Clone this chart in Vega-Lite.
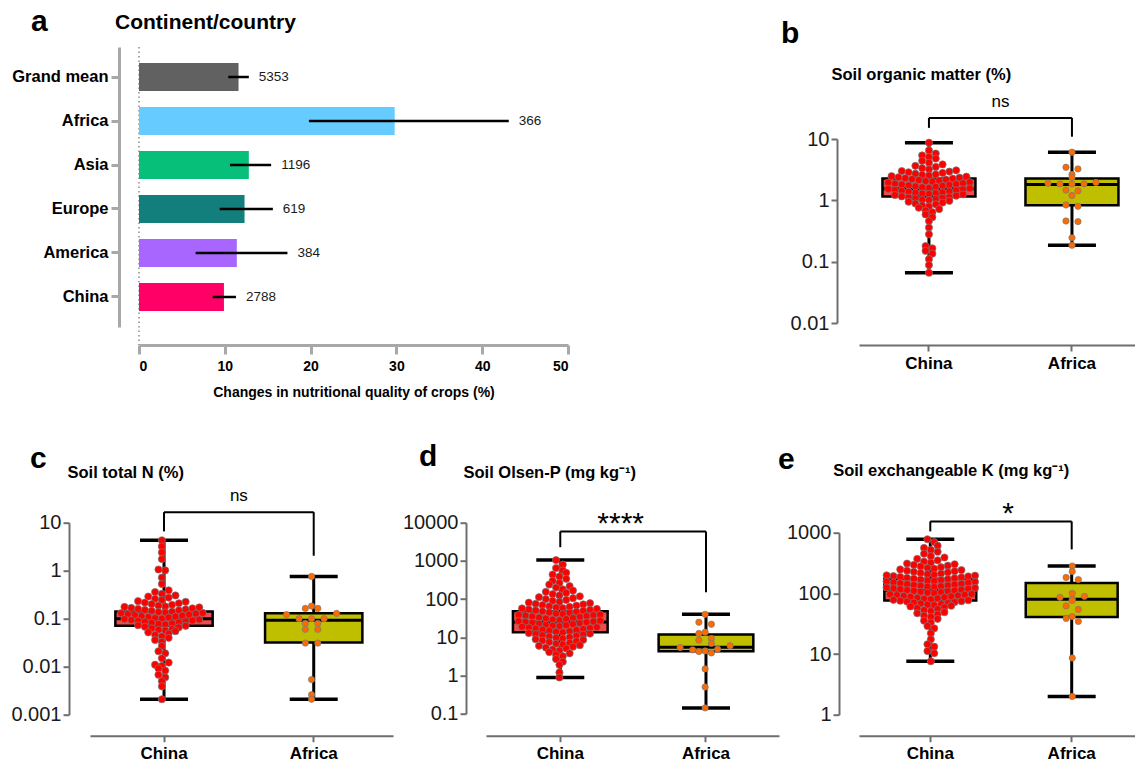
{
"$schema": "https://vega.github.io/schema/vega-lite/v6.json",
"padding": {"left": 10, "top": 7, "right": 0, "bottom": 0},
"bounds": "flush",
"spacing": 475.7,
"config": {
 "font": "Liberation Sans",
 "view": {"stroke": null},
 "axis": {"grid": false, "domainColor": "#6e6e6e", "domainWidth": 2, "tickColor": "#6e6e6e", "tickWidth": 2, "tickSize": 6, "labelColor": "#1a1a1a", "titleColor": "#000"},
 "axisY": {"labelFontSize": 20, "labelPadding": 2},
 "axisX": {"labelFontSize": 17, "labelFontWeight": "bold", "labelColor": "#000", "labelAngle": 0, "labelPadding": 4},
 "tick": {"opacity": 1, "color": "#000", "thickness": 3.5},
 "title": {"fontSize": 30, "fontWeight": "bold", "anchor": "start", "frame": "group", "baseline": "alphabetic", "color": "#000", "offset": 2}
},
"datasets": {
 "bars": [
  {"cat": "Grand mean", "m": 11.6, "lo": 10.4, "hi": 12.8, "n": "5353"},
  {"cat": "Africa", "m": 29.8, "lo": 19.8, "hi": 43.1, "n": "366"},
  {"cat": "Asia", "m": 12.8, "lo": 10.6, "hi": 15.4, "n": "1196"},
  {"cat": "Europe", "m": 12.3, "lo": 9.4, "hi": 15.6, "n": "619"},
  {"cat": "America", "m": 11.4, "lo": 6.6, "hi": 17.3, "n": "384"},
  {"cat": "China", "m": 9.9, "lo": 8.6, "hi": 11.3, "n": "2788"}
 ],
 "boxes": [
  {"p": "b", "g": "China", "lo": 0.066, "q1": 1.16, "med": 1.55, "q3": 2.27, "hi": 8.7},
  {"p": "b", "g": "Africa", "lo": 0.185, "q1": 0.83, "med": 1.82, "q3": 2.27, "hi": 6.1},
  {"p": "c", "g": "China", "lo": 0.0021, "q1": 0.071, "med": 0.1, "q3": 0.142, "hi": 4.3},
  {"p": "c", "g": "Africa", "lo": 0.0021, "q1": 0.032, "med": 0.093, "q3": 0.13, "hi": 0.76},
  {"p": "d", "g": "China", "lo": 0.89, "q1": 13.6, "med": 25, "q3": 48, "hi": 1050},
  {"p": "d", "g": "Africa", "lo": 0.14, "q1": 4.3, "med": 5.5, "q3": 11.8, "hi": 40},
  {"p": "e", "g": "China", "lo": 7.6, "q1": 76.6, "med": 112, "q3": 174, "hi": 780},
  {"p": "e", "g": "Africa", "lo": 2.0, "q1": 40.7, "med": 80, "q3": 148, "hi": 282}
 ],
 "sig": [
  {"p": "b", "lab": "ns", "ty": 33.4, "yb": 22.1, "yc": 15.2, "ya": 10.9},
  {"p": "c", "lab": "ns", "ty": 27.8, "yb": 16.6, "yc": 6.59, "ya": 2.05},
  {"p": "d", "lab": "****", "ty": 5470, "yb": 5888, "yc": 2285, "ya": 151},
  {"p": "e", "lab": "*", "ty": 1440, "yb": 1535, "yc": 1050, "ya": 531}
 ],
 "pb": [
  {"g":"China","v":8.7},{"g":"China","v":6.5},{"g":"China","v":5.1},{"g":"China","v":5.4},{"g":"China","v":5.8},
  {"g":"China","v":4.1},{"g":"China","v":4.4},{"g":"China","v":4.8},
  {"g":"China","v":3.2},{"g":"China","v":3.35},{"g":"China","v":3.5},{"g":"China","v":3.65},{"g":"China","v":3.85},
  {"g":"China","v":2.55},{"g":"China","v":2.6},{"g":"China","v":2.65},{"g":"China","v":2.72},{"g":"China","v":2.8},{"g":"China","v":2.87},{"g":"China","v":2.94},{"g":"China","v":3.0},{"g":"China","v":3.08},
  {"g":"China","v":2.02},{"g":"China","v":2.06},{"g":"China","v":2.1},{"g":"China","v":2.14},{"g":"China","v":2.18},{"g":"China","v":2.22},{"g":"China","v":2.26},{"g":"China","v":2.3},{"g":"China","v":2.34},{"g":"China","v":2.38},{"g":"China","v":2.43},{"g":"China","v":2.48},
  {"g":"China","v":1.6},{"g":"China","v":1.63},{"g":"China","v":1.66},{"g":"China","v":1.69},{"g":"China","v":1.72},{"g":"China","v":1.75},{"g":"China","v":1.78},{"g":"China","v":1.81},{"g":"China","v":1.84},{"g":"China","v":1.87},{"g":"China","v":1.9},{"g":"China","v":1.94},{"g":"China","v":1.97},
  {"g":"China","v":1.27},{"g":"China","v":1.29},{"g":"China","v":1.31},{"g":"China","v":1.33},{"g":"China","v":1.35},{"g":"China","v":1.38},{"g":"China","v":1.4},{"g":"China","v":1.43},{"g":"China","v":1.45},{"g":"China","v":1.48},{"g":"China","v":1.51},{"g":"China","v":1.54},{"g":"China","v":1.57},
  {"g":"China","v":1.01},{"g":"China","v":1.03},{"g":"China","v":1.05},{"g":"China","v":1.07},{"g":"China","v":1.09},{"g":"China","v":1.11},{"g":"China","v":1.13},{"g":"China","v":1.16},{"g":"China","v":1.19},{"g":"China","v":1.22},{"g":"China","v":1.25},
  {"g":"China","v":0.8},{"g":"China","v":0.83},{"g":"China","v":0.86},{"g":"China","v":0.89},{"g":"China","v":0.92},{"g":"China","v":0.95},{"g":"China","v":0.98},
  {"g":"China","v":0.64},{"g":"China","v":0.68},{"g":"China","v":0.72},{"g":"China","v":0.76},
  {"g":"China","v":0.53},{"g":"China","v":0.59},{"g":"China","v":0.46},{"g":"China","v":0.36},{"g":"China","v":0.28},
  {"g":"China","v":0.165},{"g":"China","v":0.18},{"g":"China","v":0.135},{"g":"China","v":0.15},{"g":"China","v":0.11},{"g":"China","v":0.088},{"g":"China","v":0.066},
  {"g":"Africa","v":6.1},{"g":"Africa","v":3.46},{"g":"Africa","v":3.25},{"g":"Africa","v":2.64},{"g":"Africa","v":2.36},
  {"g":"Africa","v":1.85},{"g":"Africa","v":1.86},{"g":"Africa","v":1.84},{"g":"Africa","v":1.9},{"g":"Africa","v":1.96},
  {"g":"Africa","v":1.43},{"g":"Africa","v":1.47},{"g":"Africa","v":1.2},{"g":"Africa","v":0.84},{"g":"Africa","v":0.8},
  {"g":"Africa","v":0.45},{"g":"Africa","v":0.46},{"g":"Africa","v":0.245},{"g":"Africa","v":0.185}
 ],
 "pc": [
  {"g":"China","v":4.3},{"g":"China","v":3.2},{"g":"China","v":2.4},{"g":"China","v":1.75},{"g":"China","v":1.02},{"g":"China","v":1.06},{"g":"China","v":0.72},{"g":"China","v":0.53},
  {"g":"China","v":0.33},{"g":"China","v":0.36},{"g":"China","v":0.39},
  {"g":"China","v":0.245},{"g":"China","v":0.26},{"g":"China","v":0.275},{"g":"China","v":0.29},{"g":"China","v":0.305},
  {"g":"China","v":0.18},{"g":"China","v":0.187},{"g":"China","v":0.195},{"g":"China","v":0.202},{"g":"China","v":0.21},{"g":"China","v":0.217},{"g":"China","v":0.225},{"g":"China","v":0.232},
  {"g":"China","v":0.135},{"g":"China","v":0.138},{"g":"China","v":0.141},{"g":"China","v":0.145},{"g":"China","v":0.149},{"g":"China","v":0.152},{"g":"China","v":0.156},{"g":"China","v":0.16},{"g":"China","v":0.164},{"g":"China","v":0.168},{"g":"China","v":0.172},{"g":"China","v":0.176},
  {"g":"China","v":0.101},{"g":"China","v":0.103},{"g":"China","v":0.106},{"g":"China","v":0.108},{"g":"China","v":0.111},{"g":"China","v":0.113},{"g":"China","v":0.116},{"g":"China","v":0.119},{"g":"China","v":0.122},{"g":"China","v":0.124},{"g":"China","v":0.127},{"g":"China","v":0.13},{"g":"China","v":0.132},
  {"g":"China","v":0.076},{"g":"China","v":0.078},{"g":"China","v":0.08},{"g":"China","v":0.082},{"g":"China","v":0.084},{"g":"China","v":0.086},{"g":"China","v":0.088},{"g":"China","v":0.09},{"g":"China","v":0.092},{"g":"China","v":0.094},{"g":"China","v":0.096},{"g":"China","v":0.098},
  {"g":"China","v":0.057},{"g":"China","v":0.059},{"g":"China","v":0.061},{"g":"China","v":0.063},{"g":"China","v":0.066},{"g":"China","v":0.068},{"g":"China","v":0.071},{"g":"China","v":0.073},
  {"g":"China","v":0.043},{"g":"China","v":0.046},{"g":"China","v":0.049},{"g":"China","v":0.052},{"g":"China","v":0.055},
  {"g":"China","v":0.033},{"g":"China","v":0.036},{"g":"China","v":0.04},
  {"g":"China","v":0.027},{"g":"China","v":0.019},{"g":"China","v":0.021},{"g":"China","v":0.015},{"g":"China","v":0.0104},{"g":"China","v":0.011},{"g":"China","v":0.0122},
  {"g":"China","v":0.0083},{"g":"China","v":0.0092},{"g":"China","v":0.006},{"g":"China","v":0.0068},{"g":"China","v":0.005},{"g":"China","v":0.0039},{"g":"China","v":0.0021},
  {"g":"Africa","v":0.76},{"g":"Africa","v":0.164},{"g":"Africa","v":0.164},{"g":"Africa","v":0.183},{"g":"Africa","v":0.129},{"g":"Africa","v":0.122},
  {"g":"Africa","v":0.1},{"g":"Africa","v":0.1},{"g":"Africa","v":0.1},{"g":"Africa","v":0.08},{"g":"Africa","v":0.08},{"g":"Africa","v":0.06},{"g":"Africa","v":0.06},
  {"g":"Africa","v":0.031},{"g":"Africa","v":0.031},{"g":"Africa","v":0.0054},{"g":"Africa","v":0.0026},{"g":"Africa","v":0.0021}
 ],
 "pd": [
  {"g":"China","v":1050},{"g":"China","v":800},{"g":"China","v":560},{"g":"China","v":650},
  {"g":"China","v":390},{"g":"China","v":440},{"g":"China","v":490},
  {"g":"China","v":265},{"g":"China","v":300},{"g":"China","v":340},
  {"g":"China","v":180},{"g":"China","v":200},{"g":"China","v":220},{"g":"China","v":240},
  {"g":"China","v":125},{"g":"China","v":135},{"g":"China","v":145},{"g":"China","v":155},{"g":"China","v":167},
  {"g":"China","v":85},{"g":"China","v":90},{"g":"China","v":95},{"g":"China","v":100},{"g":"China","v":106},{"g":"China","v":112},{"g":"China","v":118},
  {"g":"China","v":58},{"g":"China","v":60},{"g":"China","v":62.5},{"g":"China","v":65},{"g":"China","v":67.5},{"g":"China","v":70},{"g":"China","v":72.5},{"g":"China","v":75},{"g":"China","v":78},{"g":"China","v":81},
  {"g":"China","v":40.5},{"g":"China","v":42},{"g":"China","v":43.5},{"g":"China","v":45},{"g":"China","v":46.5},{"g":"China","v":48},{"g":"China","v":49.5},{"g":"China","v":51},{"g":"China","v":52.5},{"g":"China","v":54},{"g":"China","v":55.5},{"g":"China","v":57},
  {"g":"China","v":28},{"g":"China","v":29},{"g":"China","v":30},{"g":"China","v":31},{"g":"China","v":32},{"g":"China","v":33},{"g":"China","v":34},{"g":"China","v":35},{"g":"China","v":36},{"g":"China","v":37},{"g":"China","v":37.8},{"g":"China","v":38.6},{"g":"China","v":39.3},
  {"g":"China","v":19.5},{"g":"China","v":20},{"g":"China","v":20.7},{"g":"China","v":21.3},{"g":"China","v":22},{"g":"China","v":22.6},{"g":"China","v":23.3},{"g":"China","v":24},{"g":"China","v":24.7},{"g":"China","v":25.3},{"g":"China","v":26},{"g":"China","v":26.6},{"g":"China","v":27.2},
  {"g":"China","v":13.4},{"g":"China","v":13.9},{"g":"China","v":14.4},{"g":"China","v":14.9},{"g":"China","v":15.4},{"g":"China","v":15.9},{"g":"China","v":16.4},{"g":"China","v":16.9},{"g":"China","v":17.4},{"g":"China","v":17.9},{"g":"China","v":18.4},{"g":"China","v":18.9},
  {"g":"China","v":9.3},{"g":"China","v":9.7},{"g":"China","v":10.1},{"g":"China","v":10.5},{"g":"China","v":10.9},{"g":"China","v":11.3},{"g":"China","v":11.7},{"g":"China","v":12.1},{"g":"China","v":12.5},{"g":"China","v":12.9},
  {"g":"China","v":6.5},{"g":"China","v":6.8},{"g":"China","v":7.2},{"g":"China","v":7.5},{"g":"China","v":7.9},{"g":"China","v":8.2},{"g":"China","v":8.6},{"g":"China","v":8.9},
  {"g":"China","v":4.5},{"g":"China","v":4.8},{"g":"China","v":5.1},{"g":"China","v":5.4},{"g":"China","v":5.7},{"g":"China","v":6.0},{"g":"China","v":6.2},
  {"g":"China","v":3.2},{"g":"China","v":3.5},{"g":"China","v":3.8},{"g":"China","v":4.1},
  {"g":"China","v":2.3},{"g":"China","v":2.7},{"g":"China","v":1.9},{"g":"China","v":1.2},{"g":"China","v":0.89},
  {"g":"Africa","v":40},{"g":"Africa","v":22},{"g":"Africa","v":24.8},{"g":"Africa","v":12.6},{"g":"Africa","v":13.6},{"g":"Africa","v":8.4},
  {"g":"Africa","v":9.3},{"g":"Africa","v":6.9},{"g":"Africa","v":6.0},{"g":"Africa","v":5.4},{"g":"Africa","v":4.4},{"g":"Africa","v":4.25},
  {"g":"Africa","v":3.9},{"g":"Africa","v":4.7},{"g":"Africa","v":4.9},{"g":"Africa","v":1.49},{"g":"Africa","v":0.5},{"g":"Africa","v":0.142}
 ],
 "pe": [
  {"g":"China","v":700},{"g":"China","v":780},{"g":"China","v":520},{"g":"China","v":560},{"g":"China","v":610},
  {"g":"China","v":410},{"g":"China","v":450},{"g":"China","v":485},
  {"g":"China","v":320},{"g":"China","v":335},{"g":"China","v":350},{"g":"China","v":370},{"g":"China","v":390},
  {"g":"China","v":255},{"g":"China","v":262},{"g":"China","v":270},{"g":"China","v":278},{"g":"China","v":286},{"g":"China","v":294},{"g":"China","v":302},{"g":"China","v":310},
  {"g":"China","v":202},{"g":"China","v":207},{"g":"China","v":212},{"g":"China","v":217},{"g":"China","v":222},{"g":"China","v":227},{"g":"China","v":232},{"g":"China","v":237},{"g":"China","v":242},{"g":"China","v":248},
  {"g":"China","v":160},{"g":"China","v":163},{"g":"China","v":166},{"g":"China","v":169},{"g":"China","v":172},{"g":"China","v":175},{"g":"China","v":178},{"g":"China","v":181},{"g":"China","v":184},{"g":"China","v":187},{"g":"China","v":190},{"g":"China","v":193},{"g":"China","v":196},{"g":"China","v":198},
  {"g":"China","v":127},{"g":"China","v":129},{"g":"China","v":131},{"g":"China","v":133},{"g":"China","v":135},{"g":"China","v":137},{"g":"China","v":140},{"g":"China","v":142},{"g":"China","v":144},{"g":"China","v":147},{"g":"China","v":150},{"g":"China","v":152},{"g":"China","v":155},{"g":"China","v":157},
  {"g":"China","v":101},{"g":"China","v":103},{"g":"China","v":104.5},{"g":"China","v":106},{"g":"China","v":108},{"g":"China","v":110},{"g":"China","v":111.5},{"g":"China","v":113},{"g":"China","v":115},{"g":"China","v":117},{"g":"China","v":119},{"g":"China","v":121},{"g":"China","v":123},{"g":"China","v":125},
  {"g":"China","v":80},{"g":"China","v":81.5},{"g":"China","v":83},{"g":"China","v":84.5},{"g":"China","v":86},{"g":"China","v":87.5},{"g":"China","v":89},{"g":"China","v":90.5},{"g":"China","v":92},{"g":"China","v":93.5},{"g":"China","v":95},{"g":"China","v":96.5},{"g":"China","v":98},
  {"g":"China","v":64},{"g":"China","v":65.3},{"g":"China","v":66.6},{"g":"China","v":67.9},{"g":"China","v":69.2},{"g":"China","v":70.5},{"g":"China","v":71.8},{"g":"China","v":73.1},{"g":"China","v":74.4},{"g":"China","v":75.7},{"g":"China","v":77},{"g":"China","v":78.3},
  {"g":"China","v":51},{"g":"China","v":53},{"g":"China","v":55},{"g":"China","v":57},{"g":"China","v":59},{"g":"China","v":61},{"g":"China","v":62.5},
  {"g":"China","v":41},{"g":"China","v":43},{"g":"China","v":45},{"g":"China","v":47},{"g":"China","v":49},
  {"g":"China","v":33},{"g":"China","v":35.5},{"g":"China","v":38},{"g":"China","v":26.5},{"g":"China","v":29},{"g":"China","v":22},{"g":"China","v":17.5},
  {"g":"China","v":13.2},{"g":"China","v":14.5},{"g":"China","v":10.3},{"g":"China","v":11.2},{"g":"China","v":7.6},
  {"g":"Africa","v":282},{"g":"Africa","v":229},{"g":"Africa","v":183},{"g":"Africa","v":169},{"g":"Africa","v":100},{"g":"Africa","v":89.5},
  {"g":"Africa","v":86},{"g":"Africa","v":80.5},{"g":"Africa","v":76.5},{"g":"Africa","v":62},{"g":"Africa","v":54.4},{"g":"Africa","v":41.5},
  {"g":"Africa","v":38.7},{"g":"Africa","v":34.5},{"g":"Africa","v":8.6},{"g":"Africa","v":2.0}
 ]
},
"vconcat": [
 {"hconcat": [
  {
   "width": 478, "height": 298,
   "title": {"text": "a", "dx": -59, "dy": 28},
   "layer": [
    {"data": {"values": [{}]}, "mark": {"type": "rule", "color": "#8c8c8c", "strokeWidth": 1.5, "strokeDash": [1.5, 3]},
     "encoding": {"x": {"datum": 0, "type": "quantitative"}}},
    {"data": {"name": "bars"}, "mark": {"type": "bar"},
     "encoding": {
      "y": {"field": "cat", "type": "nominal",
        "scale": {"domain": ["Grand mean", "Africa", "Asia", "Europe", "America", "China"], "range": [0, 280], "paddingInner": 0.36, "paddingOuter": 0.362},
        "axis": {"orient": "left", "offset": -29, "title": "Continent/country", "titleAngle": 0, "titleAlign": "left", "titleBaseline": "alphabetic", "titleX": -4.5, "titleY": -19, "titleFontSize": 21, "titleFontWeight": "bold", "domainColor": "#a8a8a8", "domainWidth": 3, "tickColor": "#a8a8a8", "tickWidth": 3, "tickSize": 8, "labelFontSize": 16.5, "labelFontWeight": "bold", "labelColor": "#000", "labelPadding": 3}},
      "x": {"field": "m", "type": "quantitative",
        "scale": {"domain": [0, 50], "range": [49, 478], "nice": false},
        "axis": {"values": [0, 10, 20, 30, 40, 50], "domainColor": "#a8a8a8", "domainWidth": 3, "tickColor": "#a8a8a8", "tickWidth": 3, "tickSize": 9, "labelFontSize": 14, "labelFontWeight": "bold", "labelColor": "#000", "labelPadding": 5, "title": "Changes in nutritional quality of crops (%)", "titleFontSize": 14, "titleFontWeight": "bold", "titlePadding": 12}},
      "color": {"field": "cat", "type": "nominal", "scale": {"domain": ["Grand mean", "Africa", "Asia", "Europe", "America", "China"], "range": ["#616161", "#66CCFF", "#07BF78", "#127F7C", "#A866FF", "#FF0066"]}, "legend": null}
     }},
    {"data": {"name": "bars"}, "mark": {"type": "rule", "color": "#000", "strokeWidth": 2.5},
     "encoding": {"y": {"field": "cat", "type": "nominal"}, "x": {"field": "lo", "type": "quantitative"}, "x2": {"field": "hi"}}},
    {"data": {"name": "bars"}, "mark": {"type": "text", "align": "left", "baseline": "middle", "dx": 10, "fontSize": 13.5, "color": "#1a1a1a"},
     "encoding": {"y": {"field": "cat", "type": "nominal"}, "x": {"field": "hi", "type": "quantitative"}, "text": {"field": "n"}}}
   ]
  },
  {
   "width": 277, "height": 298,
   "title": {"text": "b", "dx": -78, "dy": 3.7},
   "layer": [
    {"data": {"name": "boxes"}, "transform": [{"filter": "datum.p == 'b'"}],
     "layer": [
      {"mark": {"type": "rule", "color": "#000", "strokeWidth": 3},
       "encoding": {
        "x": {"field": "g", "type": "nominal", "scale": {"domain": ["China", "Africa"], "paddingInner": 0.35, "paddingOuter": 0.1435, "align": 0.572}, "axis": {"title": null}},
        "y": {"field": "lo", "type": "quantitative", "scale": {"type": "log", "domain": [0.01, 10], "range": [276, 92], "nice": false},
          "axis": {"values": [0.01, 0.1, 1, 10], "format": "~g", "offset": 22, "title": "Soil organic matter (%)", "titleAngle": 0, "titleAlign": "left", "titleBaseline": "alphabetic", "titleX": -6, "titleY": 32.3, "titleFontSize": 16.5, "titleFontWeight": "bold"}},
        "y2": {"field": "hi"}}},
      {"mark": {"type": "tick", "orient": "horizontal", "size": 48},
       "encoding": {"x": {"field": "g", "type": "nominal"}, "y": {"field": "lo", "type": "quantitative"}}},
      {"mark": {"type": "tick", "orient": "horizontal", "size": 48},
       "encoding": {"x": {"field": "g", "type": "nominal"}, "y": {"field": "hi", "type": "quantitative"}}},
      {"mark": {"type": "bar", "width": 93, "stroke": "#000", "strokeWidth": 2.5},
       "encoding": {"x": {"field": "g", "type": "nominal"}, "y": {"field": "q1", "type": "quantitative"}, "y2": {"field": "q3"},
        "fill": {"condition": {"test": "datum.g == 'China'", "value": "#F14B4B"}, "value": "#BFBF00"}}},
      {"mark": {"type": "tick", "orient": "horizontal", "size": 93, "thickness": 3},
       "encoding": {"x": {"field": "g", "type": "nominal"}, "y": {"field": "med", "type": "quantitative"}}}
     ]},
    {"data": {"name": "pb"},
     "transform": [
      {"calculate": "floor(log(datum.v)/LN10/0.1)", "as": "k"},
      {"window": [{"op": "row_number", "as": "r"}], "groupby": ["g", "k"], "sort": [{"field": "v"}]},
      {"joinaggregate": [{"op": "count", "as": "n"}], "groupby": ["g", "k"]},
      {"calculate": "((datum.r % 2 == 0 ? -1 : 1) * floor(datum.r / 2) + (datum.n % 2 == 0 ? 0.5 : 0)) * (datum.g == 'Africa' ? 12 : 6.8)", "as": "xs"}
     ],
     "mark": {"type": "point", "filled": true, "stroke": "#7a7a7a", "strokeWidth": 0.7, "opacity": 1},
     "encoding": {
      "x": {"field": "g", "type": "nominal"},
      "xOffset": {"field": "xs", "type": "quantitative", "scale": {"domain": [-50, 50], "range": [-3.5, 96.5]}},
      "y": {"field": "v", "type": "quantitative"},
      "size": {"condition": {"test": "datum.g == 'China'", "value": 52}, "value": 40},
      "fill": {"condition": {"test": "datum.g == 'China'", "value": "#FF0000"}, "value": "#FF6A00"}
     }},
    {"data": {"name": "sig"}, "transform": [{"filter": "datum.p == 'b'"}],
     "layer": [
      {"mark": {"type": "rule", "color": "#000", "strokeWidth": 2},
       "encoding": {"x": {"datum": "China", "type": "nominal"}, "x2": {"datum": "Africa"}, "y": {"field": "yb", "type": "quantitative"}}},
      {"mark": {"type": "rule", "color": "#000", "strokeWidth": 2},
       "encoding": {"x": {"datum": "China", "type": "nominal"}, "y": {"field": "yb", "type": "quantitative"}, "y2": {"field": "yc"}}},
      {"mark": {"type": "rule", "color": "#000", "strokeWidth": 2},
       "encoding": {"x": {"datum": "Africa", "type": "nominal"}, "y": {"field": "yb", "type": "quantitative"}, "y2": {"field": "ya"}}},
      {"mark": {"type": "text", "dx": 71.5, "fontSize": 17, "baseline": "alphabetic", "align": "center", "color": "#000"},
       "encoding": {"x": {"datum": "China", "type": "nominal"}, "y": {"field": "ty", "type": "quantitative"}, "text": {"field": "lab"}}}
     ]}
   ]
  }
 ], "spacing": 291, "bounds": "flush"},
 {"hconcat": [
  {
   "width": 303, "height": 213,
   "title": {"text": "c", "dx": -60, "dy": 11.5},
   "layer": [
    {"data": {"name": "boxes"}, "transform": [{"filter": "datum.p == 'c'"}],
     "layer": [
      {"mark": {"type": "rule", "color": "#000", "strokeWidth": 3},
       "encoding": {
        "x": {"field": "g", "type": "nominal", "scale": {"domain": ["China", "Africa"], "paddingInner": 0.35, "paddingOuter": 0.187, "align": 0.453}, "axis": {"title": null}},
        "y": {"field": "lo", "type": "quantitative", "scale": {"type": "log", "domain": [0.001, 10], "range": [192, 0], "nice": false},
          "axis": {"values": [0.001, 0.01, 0.1, 1, 10], "format": "~g", "offset": 21, "title": "Soil total N (%)", "titleAngle": 0, "titleAlign": "left", "titleBaseline": "alphabetic", "titleX": -2, "titleY": -45.7, "titleFontSize": 16.5, "titleFontWeight": "bold"}},
        "y2": {"field": "hi"}}},
      {"mark": {"type": "tick", "orient": "horizontal", "size": 48},
       "encoding": {"x": {"field": "g", "type": "nominal"}, "y": {"field": "lo", "type": "quantitative"}}},
      {"mark": {"type": "tick", "orient": "horizontal", "size": 48},
       "encoding": {"x": {"field": "g", "type": "nominal"}, "y": {"field": "hi", "type": "quantitative"}}},
      {"mark": {"type": "bar", "width": 97.3, "stroke": "#000", "strokeWidth": 2.5},
       "encoding": {"x": {"field": "g", "type": "nominal"}, "y": {"field": "q1", "type": "quantitative"}, "y2": {"field": "q3"},
        "fill": {"condition": {"test": "datum.g == 'China'", "value": "#F14B4B"}, "value": "#BFBF00"}}},
      {"mark": {"type": "tick", "orient": "horizontal", "size": 97.3, "thickness": 3},
       "encoding": {"x": {"field": "g", "type": "nominal"}, "y": {"field": "med", "type": "quantitative"}}}
     ]},
    {"data": {"name": "pc"},
     "transform": [
      {"calculate": "floor(log(datum.v)/LN10/0.125)", "as": "k"},
      {"window": [{"op": "row_number", "as": "r"}], "groupby": ["g", "k"], "sort": [{"field": "v"}]},
      {"joinaggregate": [{"op": "count", "as": "n"}], "groupby": ["g", "k"]},
      {"calculate": "((datum.r % 2 == 0 ? -1 : 1) * floor(datum.r / 2) + (datum.n % 2 == 0 ? 0.5 : 0)) * (datum.g == 'Africa' ? 12.5 : 6.8)", "as": "xs"}
     ],
     "mark": {"type": "point", "filled": true, "stroke": "#7a7a7a", "strokeWidth": 0.7, "opacity": 1},
     "encoding": {
      "x": {"field": "g", "type": "nominal"},
      "xOffset": {"field": "xs", "type": "quantitative", "scale": {"domain": [-50, 50], "range": [-1.35, 98.65]}},
      "y": {"field": "v", "type": "quantitative"},
      "size": {"condition": {"test": "datum.g == 'China'", "value": 52}, "value": 40},
      "fill": {"condition": {"test": "datum.g == 'China'", "value": "#FF0000"}, "value": "#FF6A00"}
     }},
    {"data": {"name": "sig"}, "transform": [{"filter": "datum.p == 'c'"}],
     "layer": [
      {"mark": {"type": "rule", "color": "#000", "strokeWidth": 2},
       "encoding": {"x": {"datum": "China", "type": "nominal"}, "x2": {"datum": "Africa"}, "y": {"field": "yb", "type": "quantitative"}}},
      {"mark": {"type": "rule", "color": "#000", "strokeWidth": 2},
       "encoding": {"x": {"datum": "China", "type": "nominal"}, "y": {"field": "yb", "type": "quantitative"}, "y2": {"field": "yc"}}},
      {"mark": {"type": "rule", "color": "#000", "strokeWidth": 2},
       "encoding": {"x": {"datum": "Africa", "type": "nominal"}, "y": {"field": "yb", "type": "quantitative"}, "y2": {"field": "ya"}}},
      {"mark": {"type": "text", "dx": 74.85, "fontSize": 17, "baseline": "alphabetic", "align": "center", "color": "#000"},
       "encoding": {"x": {"datum": "China", "type": "nominal"}, "y": {"field": "ty", "type": "quantitative"}, "text": {"field": "lab"}}}
     ]}
   ]
  },
  {"hconcat": [
   {
    "width": 293, "height": 213,
    "title": {"text": "d", "dx": -67, "dy": 9.4},
    "layer": [
     {"data": {"name": "boxes"}, "transform": [{"filter": "datum.p == 'd'"}],
      "layer": [
       {"mark": {"type": "rule", "color": "#000", "strokeWidth": 3},
        "encoding": {
         "x": {"field": "g", "type": "nominal", "scale": {"domain": ["China", "Africa"], "paddingInner": 0.35, "paddingOuter": 0.1805, "align": 0.512}, "axis": {"title": null}},
         "y": {"field": "lo", "type": "quantitative", "scale": {"type": "log", "domain": [0.1, 10000], "range": [191, 0], "nice": false},
           "axis": {"values": [0.1, 1, 10, 100, 1000, 10000], "format": "~g", "offset": 20, "title": "Soil Olsen-P (mg kg⁻¹)", "titleAngle": 0, "titleAlign": "left", "titleBaseline": "alphabetic", "titleX": -3, "titleY": -45.2, "titleFontSize": 16.5, "titleFontWeight": "bold"}},
         "y2": {"field": "hi"}}},
       {"mark": {"type": "tick", "orient": "horizontal", "size": 48},
        "encoding": {"x": {"field": "g", "type": "nominal"}, "y": {"field": "lo", "type": "quantitative"}}},
       {"mark": {"type": "tick", "orient": "horizontal", "size": 48},
        "encoding": {"x": {"field": "g", "type": "nominal"}, "y": {"field": "hi", "type": "quantitative"}}},
       {"mark": {"type": "bar", "width": 94.7, "stroke": "#000", "strokeWidth": 2.5},
        "encoding": {"x": {"field": "g", "type": "nominal"}, "y": {"field": "q1", "type": "quantitative"}, "y2": {"field": "q3"},
         "fill": {"condition": {"test": "datum.g == 'China'", "value": "#F14B4B"}, "value": "#BFBF00"}}},
       {"mark": {"type": "tick", "orient": "horizontal", "size": 94.7, "thickness": 3},
        "encoding": {"x": {"field": "g", "type": "nominal"}, "y": {"field": "med", "type": "quantitative"}}}
      ]},
     {"data": {"name": "pd"},
      "transform": [
       {"calculate": "floor(log(datum.v)/LN10/0.16)", "as": "k"},
       {"window": [{"op": "row_number", "as": "r"}], "groupby": ["g", "k"], "sort": [{"field": "v"}]},
       {"joinaggregate": [{"op": "count", "as": "n"}], "groupby": ["g", "k"]},
       {"calculate": "((datum.r % 2 == 0 ? -1 : 1) * floor(datum.r / 2) + (datum.n % 2 == 0 ? 0.5 : 0)) * (datum.g == 'Africa' ? 12.5 : 6.8)", "as": "xs"}
      ],
      "mark": {"type": "point", "filled": true, "stroke": "#7a7a7a", "strokeWidth": 0.7, "opacity": 1},
      "encoding": {
       "x": {"field": "g", "type": "nominal"},
       "xOffset": {"field": "xs", "type": "quantitative", "scale": {"domain": [-50, 50], "range": [-2.65, 97.35]}},
       "y": {"field": "v", "type": "quantitative"},
       "size": {"condition": {"test": "datum.g == 'China'", "value": 52}, "value": 40},
       "fill": {"condition": {"test": "datum.g == 'China'", "value": "#FF0000"}, "value": "#FF6A00"}
      }},
     {"data": {"name": "sig"}, "transform": [{"filter": "datum.p == 'd'"}],
      "layer": [
       {"mark": {"type": "rule", "color": "#000", "strokeWidth": 2},
        "encoding": {"x": {"datum": "China", "type": "nominal"}, "x2": {"datum": "Africa"}, "y": {"field": "yb", "type": "quantitative"}}},
       {"mark": {"type": "rule", "color": "#000", "strokeWidth": 2},
        "encoding": {"x": {"datum": "China", "type": "nominal"}, "y": {"field": "yb", "type": "quantitative"}, "y2": {"field": "yc"}}},
       {"mark": {"type": "rule", "color": "#000", "strokeWidth": 2},
        "encoding": {"x": {"datum": "Africa", "type": "nominal"}, "y": {"field": "yb", "type": "quantitative"}, "y2": {"field": "ya"}}},
       {"mark": {"type": "text", "dx": 60.4, "fontSize": 30, "baseline": "alphabetic", "align": "center", "color": "#000"},
        "encoding": {"x": {"datum": "China", "type": "nominal"}, "y": {"field": "ty", "type": "quantitative"}, "text": {"field": "lab"}}}
      ]}
    ]
   },
   {
    "width": 277, "height": 213,
    "title": {"text": "e", "dx": -81, "dy": 14.7},
    "layer": [
     {"data": {"name": "boxes"}, "transform": [{"filter": "datum.p == 'e'"}],
      "layer": [
       {"mark": {"type": "rule", "color": "#000", "strokeWidth": 3},
        "encoding": {
         "x": {"field": "g", "type": "nominal", "scale": {"domain": ["China", "Africa"], "paddingInner": 0.35, "paddingOuter": 0.1545, "align": 0.58}, "axis": {"title": null}},
         "y": {"field": "lo", "type": "quantitative", "scale": {"type": "log", "domain": [1, 1000], "range": [192, 10], "nice": false},
           "axis": {"values": [1, 10, 100, 1000], "format": "~g", "offset": 20, "title": "Soil exchangeable K (mg kg⁻¹)", "titleAngle": 0, "titleAlign": "left", "titleBaseline": "alphabetic", "titleX": -6.3, "titleY": -47.7, "titleFontSize": 16.5, "titleFontWeight": "bold"}},
         "y2": {"field": "hi"}}},
       {"mark": {"type": "tick", "orient": "horizontal", "size": 48},
        "encoding": {"x": {"field": "g", "type": "nominal"}, "y": {"field": "lo", "type": "quantitative"}}},
       {"mark": {"type": "tick", "orient": "horizontal", "size": 48},
        "encoding": {"x": {"field": "g", "type": "nominal"}, "y": {"field": "hi", "type": "quantitative"}}},
       {"mark": {"type": "bar", "width": 91.9, "stroke": "#000", "strokeWidth": 2.5},
        "encoding": {"x": {"field": "g", "type": "nominal"}, "y": {"field": "q1", "type": "quantitative"}, "y2": {"field": "q3"},
         "fill": {"condition": {"test": "datum.g == 'China'", "value": "#F14B4B"}, "value": "#BFBF00"}}},
       {"mark": {"type": "tick", "orient": "horizontal", "size": 91.9, "thickness": 3},
        "encoding": {"x": {"field": "g", "type": "nominal"}, "y": {"field": "med", "type": "quantitative"}}}
      ]},
     {"data": {"name": "pe"},
      "transform": [
       {"calculate": "floor(log(datum.v)/LN10/0.1)", "as": "k"},
       {"window": [{"op": "row_number", "as": "r"}], "groupby": ["g", "k"], "sort": [{"field": "v"}]},
       {"joinaggregate": [{"op": "count", "as": "n"}], "groupby": ["g", "k"]},
       {"calculate": "((datum.r % 2 == 0 ? -1 : 1) * floor(datum.r / 2) + (datum.n % 2 == 0 ? 0.5 : 0)) * (datum.g == 'Africa' ? 12.2 : 6.8)", "as": "xs"}
      ],
      "mark": {"type": "point", "filled": true, "stroke": "#7a7a7a", "strokeWidth": 0.7, "opacity": 1},
      "encoding": {
       "x": {"field": "g", "type": "nominal"},
       "xOffset": {"field": "xs", "type": "quantitative", "scale": {"domain": [-50, 50], "range": [-4.05, 95.95]}},
       "y": {"field": "v", "type": "quantitative"},
       "size": {"condition": {"test": "datum.g == 'China'", "value": 52}, "value": 40},
       "fill": {"condition": {"test": "datum.g == 'China'", "value": "#FF0000"}, "value": "#FF6A00"}
      }},
     {"data": {"name": "sig"}, "transform": [{"filter": "datum.p == 'e'"}],
      "layer": [
       {"mark": {"type": "rule", "color": "#000", "strokeWidth": 2},
        "encoding": {"x": {"datum": "China", "type": "nominal"}, "x2": {"datum": "Africa"}, "y": {"field": "yb", "type": "quantitative"}}},
       {"mark": {"type": "rule", "color": "#000", "strokeWidth": 2},
        "encoding": {"x": {"datum": "China", "type": "nominal"}, "y": {"field": "yb", "type": "quantitative"}, "y2": {"field": "yc"}}},
       {"mark": {"type": "rule", "color": "#000", "strokeWidth": 2},
        "encoding": {"x": {"datum": "Africa", "type": "nominal"}, "y": {"field": "yb", "type": "quantitative"}, "y2": {"field": "ya"}}},
       {"mark": {"type": "text", "dx": 77.7, "fontSize": 30, "baseline": "alphabetic", "align": "center", "color": "#000"},
        "encoding": {"x": {"datum": "China", "type": "nominal"}, "y": {"field": "ty", "type": "quantitative"}, "text": {"field": "lab"}}}
      ]}
    ]
   }
  ], "spacing": 80, "bounds": "flush"}
 ], "spacing": 93, "bounds": "flush"}
]
}
